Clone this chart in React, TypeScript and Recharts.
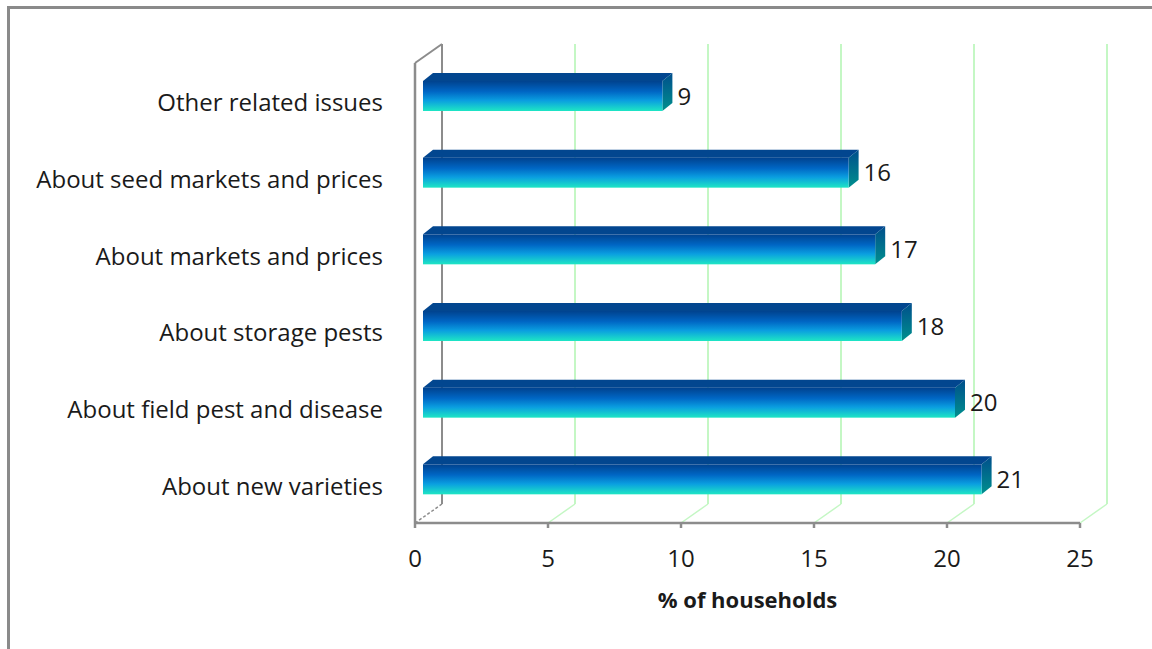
import React from 'react'
import { BarChart, Bar, XAxis, YAxis, CartesianGrid, LabelList } from 'recharts'

const categories = [
  'Other related issues',
  'About seed markets and prices',
  'About markets and prices',
  'About storage pests',
  'About field pest and disease',
  'About new varieties'
]
const households = [9, 16, 17, 18, 20, 21]
const xTicks = [0, 5, 10, 15, 20, 25]

const data = categories.map((name, i) => ({ name, value: households[i] }))

const FONT = '"Open Sans", "Noto Sans", sans-serif'
const FS = 24

// depth of the fake 3D box (back wall offset) and of the bars themselves
const WALL_DX = 27
const WALL_DY = 19
const BAR_SHIFT_X = 8
const BAR_SHIFT_Y = 5
const BAR_DX = 10
const BAR_DY = 8

const gridLine = (props: any) => {
  const { x1, y1, y2, index } = props
  const top = Math.min(y1, y2)
  const bottom = Math.max(y1, y2)
  const wall = index === 0
  const stroke = wall ? '#8c8c8c' : '#c4f7c4'
  return (
    <g key={`grid-${index}`}>
      <line
        x1={x1}
        y1={bottom}
        x2={x1 + WALL_DX}
        y2={bottom - WALL_DY}
        stroke={stroke}
        strokeWidth={1.5}
        strokeDasharray={wall ? '3 2' : undefined}
      />
      <line x1={x1 + WALL_DX} y1={bottom - WALL_DY} x2={x1 + WALL_DX} y2={top - WALL_DY} stroke={stroke} strokeWidth={2} />
      {wall && <line x1={x1} y1={top} x2={x1 + WALL_DX} y2={top - WALL_DY} stroke={stroke} strokeWidth={2} />}
    </g>
  )
}

const Bar3D = (props: any) => {
  const { x, y, width, height } = props
  const fx = x + BAR_SHIFT_X
  const fy = y - BAR_SHIFT_Y
  const rx = fx + width
  return (
    <g>
      <polygon
        points={`${fx},${fy} ${fx + BAR_DX},${fy - BAR_DY} ${rx + BAR_DX},${fy - BAR_DY} ${rx},${fy}`}
        fill='#02468f'
      />
      <polygon
        points={`${rx},${fy} ${rx + BAR_DX},${fy - BAR_DY} ${rx + BAR_DX},${fy + height - BAR_DY} ${rx},${fy + height}`}
        fill='url(#sideFill)'
      />
      <rect x={fx} y={fy} width={width} height={height} fill='url(#frontFill)' />
    </g>
  )
}

const renderValue = (props: any) => {
  const { x, y, width, height, value } = props
  return (
    <text
      x={x + width + BAR_SHIFT_X + BAR_DX + 5}
      y={y - BAR_SHIFT_Y + height / 2 + 8.5}
      fontSize={FS}
      fontFamily={FONT}
      fill='#1a1a1a'
    >
      {value}
    </text>
  )
}

const categoryTick = (props: any) => {
  const { x, y, payload } = props
  return (
    <text x={x} y={y + 10} textAnchor='end' fontSize={FS} fontFamily={FONT} fill='#1a1a1a'>
      {payload.value}
    </text>
  )
}

export default function App() {
  return (
    <div style={{ position: 'absolute', left: 0, top: 0, width: 1152, height: 649, background: '#fff' }}>
      <svg width={0} height={0} style={{ position: 'absolute' }}>
        <defs>
          <linearGradient id='frontFill' x1='0' y1='0' x2='0' y2='1'>
            <stop offset='0%' stopColor='#00428e' />
            <stop offset='35%' stopColor='#0066c4' />
            <stop offset='65%' stopColor='#0a9ee0' />
            <stop offset='100%' stopColor='#1ee6c4' />
          </linearGradient>
          <linearGradient id='sideFill' x1='0' y1='0' x2='0' y2='1'>
            <stop offset='0%' stopColor='#004e8c' />
            <stop offset='100%' stopColor='#00908e' />
          </linearGradient>
        </defs>
      </svg>
      <div
        style={{
          position: 'absolute',
          left: 7,
          top: 6,
          right: 0,
          bottom: 0,
          borderTop: '3px solid #8a8a8a',
          borderLeft: '3px solid #8a8a8a'
        }}
      />
      <BarChart
        width={1152}
        height={649}
        data={data}
        layout='vertical'
        margin={{ top: 63, right: 72, bottom: 36, left: 0 }}
        barCategoryGap={0}
      >
        <CartesianGrid horizontal={false} vertical={gridLine} />
        <XAxis
          type='number'
          domain={[0, 25]}
          ticks={xTicks}
          interval={0}
          height={90}
          axisLine={{ stroke: '#8c8c8c', strokeWidth: 2.5 }}
          tickLine={{ stroke: '#8c8c8c', strokeWidth: 2.5 }}
          tickSize={5}
          tickMargin={22}
          tick={{ fontSize: FS, fontFamily: FONT, fill: '#1a1a1a' }}
          label={{
            value: '% of households',
            position: 'insideBottom',
            offset: 5,
            style: { fontSize: 22, fontWeight: 700, fontFamily: FONT, fill: '#1a1a1a' }
          }}
        />
        <YAxis
          type='category'
          dataKey='name'
          width={415}
          axisLine={{ stroke: '#8c8c8c', strokeWidth: 2.5 }}
          tickLine={false}
          tickSize={0}
          tickMargin={32}
          tick={categoryTick}
          interval={0}
        />
        <Bar dataKey='value' barSize={30} shape={Bar3D} isAnimationActive={false}>
          <LabelList dataKey='value' content={renderValue} />
        </Bar>
      </BarChart>
    </div>
  )
}
